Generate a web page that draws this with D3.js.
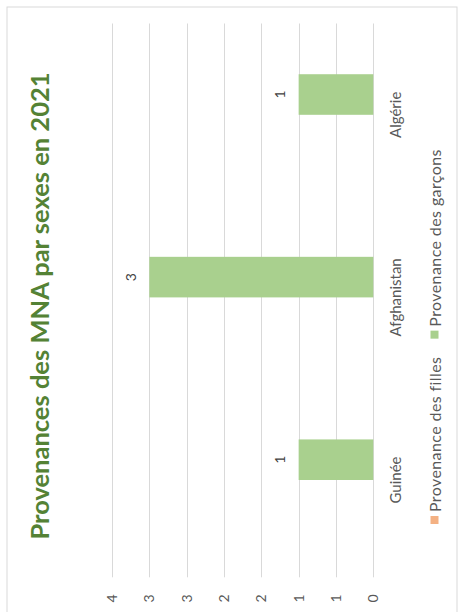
<!DOCTYPE html>
<html>
<head>
<meta charset="utf-8">
<script src="https://cdn.jsdelivr.net/npm/d3@7"></script>
<style>
  html, body { margin: 0; padding: 0; background: #ffffff; }
  svg { display: block; }
  text { font-family: Lato, "Open Sans", sans-serif; }
</style>
</head>
<body>
<svg id="chart" width="461" height="612"></svg>
<script>
// Countries of origin of unaccompanied minors in 2021, split by sex
const categories = ["Guinée", "Afghanistan", "Algérie"];
const seriesNames = ["Provenance des filles", "Provenance des garçons"];
const filles = [null, null, null];
const garcons = [1, 3, 1];
const tickValues = [0, 0.5, 1, 1.5, 2, 2.5, 3, 3.5];
const tickLabels = ["0", "1", "1", "2", "2", "3", "3", "4"];
const titleText = "Provenances des MNA par sexes en 2021";

const seriesColors = ["#F4B183", "#A9D08E"];
const series = [filles, garcons];

const W = 461, H = 612;
const svg = d3.select("#chart");

// The chart is laid out in a page turned a quarter turn counter-clockwise:
// inner width runs up the screen, inner height runs across it.
const innerW = H, innerH = W;
const g = svg.append("g").attr("transform", `translate(0,${H}) rotate(-90)`);

// Chart frame
g.append("rect")
  .attr("x", -30).attr("y", 7)
  .attr("width", innerW - 7 + 30).attr("height", innerH - 11)
  .attr("fill", "#ffffff")
  .attr("stroke", "#d9d9d9").attr("stroke-width", 1);

const plot = { left: 40.7, right: 588.5, top: 112, bottom: 373.3 };

const x0 = d3.scaleBand()
  .domain(categories)
  .range([plot.left, plot.right])
  .paddingInner(0).paddingOuter(0);

const x1 = d3.scaleBand()
  .domain(seriesNames)
  .range([0, x0.bandwidth()])
  .paddingInner(0).paddingOuter(1.25);

const y = d3.scaleLinear()
  .domain([0, 3.5])
  .range([plot.bottom, plot.top]);

// Gridlines
g.append("g")
  .selectAll("line")
  .data(tickValues)
  .join("line")
  .attr("x1", plot.left - 6).attr("x2", plot.right)
  .attr("y1", d => Math.round(y(d)) + 0.5).attr("y2", d => Math.round(y(d)) + 0.5)
  .attr("stroke", "#d9d9d9").attr("stroke-width", 1);

// Value axis
const yAxis = g.append("g")
  .attr("transform", `translate(${plot.left - 20},0)`)
  .call(d3.axisLeft(y)
    .tickValues(tickValues)
    .tickSize(0)
    .tickPadding(3)
    .tickFormat((d, i) => tickLabels[i]));
yAxis.select(".domain").remove();
yAxis.selectAll("text")
  .attr("fill", "#595959")
  .style("font-size", "14px");

// Category axis
const xAxis = g.append("g")
  .attr("transform", `translate(0,${plot.bottom})`)
  .call(d3.axisBottom(x0).tickSize(0).tickPadding(17));
xAxis.select(".domain").remove();
xAxis.selectAll("text")
  .attr("fill", "#595959")
  .style("font-size", "15px");

// Bars
const barData = [];
categories.forEach((c, i) => {
  series.forEach((s, k) => {
    if (s[i] != null) barData.push({ cat: c, name: seriesNames[k], value: s[i], color: seriesColors[k] });
  });
});

g.append("g")
  .selectAll("rect")
  .data(barData)
  .join("rect")
  .attr("x", d => x0(d.cat) + x1(d.name))
  .attr("y", d => y(d.value))
  .attr("width", x1.bandwidth())
  .attr("height", d => y(0) - y(d.value))
  .attr("fill", d => d.color);

// Data labels
g.append("g")
  .selectAll("text")
  .data(barData)
  .join("text")
  .attr("x", d => x0(d.cat) + x1(d.name) + x1.bandwidth() / 2)
  .attr("y", d => y(d.value) - 13.5)
  .attr("text-anchor", "middle")
  .attr("fill", "#404040")
  .style("font-size", "14px")
  .text(d => d.value);

// Title
g.append("text")
  .attr("x", innerW / 2)
  .attr("y", 49)
  .attr("text-anchor", "middle")
  .attr("fill", "#548235")
  .style("font-size", "25.5px")
  .style("font-weight", "bold")
  .text(titleText);

// Legend
const legend = g.append("g").attr("transform", "translate(88,435)");
let cursor = 0;
seriesNames.forEach((name, k) => {
  const item = legend.append("g").attr("transform", `translate(${cursor},0)`);
  item.append("rect")
    .attr("x", 0).attr("y", -4.5)
    .attr("width", 8).attr("height", 8)
    .attr("fill", seriesColors[k]);
  const t = item.append("text")
    .attr("x", 12).attr("y", 0).attr("dy", "0.35em")
    .attr("fill", "#595959")
    .style("font-size", "16px")
    .style("letter-spacing", "0.4px")
    .text(name);
  cursor += 12 + t.node().getComputedTextLength() + 18;
});
</script>
</body>
</html>
